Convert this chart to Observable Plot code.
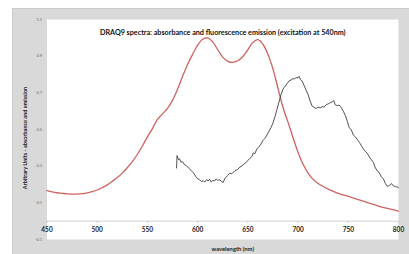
<!DOCTYPE html>
<html><head><meta charset="utf-8">
<script src="https://cdn.jsdelivr.net/npm/d3@7"></script>
<script src="https://cdn.jsdelivr.net/npm/@observablehq/plot@0.6"></script>
<style>
body{margin:0;background:#fff;}
#wrap{position:relative;width:409px;height:254px;overflow:hidden;}
#panel{position:absolute;left:12px;top:8px;width:397px;height:246px;background:#d9d9d9;border-top:1px solid #cacaca;border-left:1px solid #cacaca;}
#chart{position:absolute;left:0;top:0;}
</style></head><body>
<div id="wrap"><div id="panel"></div><div id="chart"></div></div>
<script>
const title = "DRAQ9 spectra: absorbance and fluorescence emission (excitation at 540nm)";
const yLabel = "Arbitrary Units - absorbance and emission";
const xLabel = "wavelength (nm)";
const xTicks = [450, 500, 550, 600, 650, 700, 750, 800];
const yTicks = [-0.1, 0.1, 0.3, 0.5, 0.7, 0.9, 1.1];

const absNm = [450,455,460,465,470,475,480,485,490,495,500,505,510,515,520,525,530,535,540,545,550,555,560,565,570,575,580,585,590,595,600,605,610,615,620,625,630,635,640,645,650,655,660,665,670,675,680,685,690,695,700,705,710,715,720,730,740,750,760,770,780,790,800];
const absVal = [0.167,0.160,0.155,0.152,0.149,0.148,0.148,0.150,0.154,0.161,0.170,0.183,0.198,0.217,0.238,0.262,0.292,0.325,0.365,0.410,0.460,0.505,0.555,0.585,0.615,0.660,0.720,0.790,0.855,0.910,0.960,0.992,1.000,0.978,0.935,0.895,0.872,0.866,0.875,0.898,0.935,0.975,0.990,0.965,0.910,0.830,0.725,0.620,0.540,0.455,0.375,0.310,0.262,0.228,0.205,0.175,0.152,0.135,0.118,0.100,0.082,0.068,0.055];

const emNm = [579,579.5,581,582,583.5,585,586.5,588.5,591,593.5,596,598,600,602,604,605.5,607,609,610.5,612,613.5,615,617,618.5,620,622,624,625.5,627,630,632,634,637,640,642,644,646,648,650,652,654,655.5,657,659,661,663,665,667,669,671,673,675,677,679,681,683,685,687,689,691,693,695,696.5,698,699.5,701,702.5,704,706,708,710,712,714,716,718,720,722,724,726,728,730,732,734,735.5,737,739,741,743,745,747,749,751,753,755,757,759,761,763,765,767,769,771,773,775,777,779,781,783,785,787,789,791,793,795,797,799,800];
const emVal = [0.290,0.358,0.335,0.340,0.322,0.325,0.310,0.304,0.290,0.277,0.262,0.245,0.231,0.226,0.215,0.222,0.213,0.226,0.220,0.228,0.213,0.222,0.220,0.231,0.222,0.226,0.214,0.212,0.232,0.250,0.262,0.258,0.275,0.283,0.295,0.300,0.312,0.318,0.332,0.342,0.352,0.372,0.368,0.395,0.405,0.420,0.440,0.452,0.470,0.490,0.510,0.535,0.570,0.610,0.650,0.690,0.720,0.735,0.750,0.765,0.770,0.778,0.775,0.785,0.780,0.790,0.772,0.765,0.740,0.715,0.690,0.655,0.628,0.620,0.615,0.622,0.618,0.625,0.622,0.635,0.640,0.646,0.650,0.658,0.635,0.630,0.633,0.620,0.600,0.577,0.545,0.510,0.498,0.470,0.460,0.445,0.430,0.412,0.395,0.380,0.370,0.350,0.335,0.320,0.290,0.275,0.262,0.242,0.230,0.205,0.190,0.195,0.205,0.192,0.188,0.186,0.182];

const abs = absNm.map((nm, i) => ({nm, v: absVal[i]}));
const em = emNm.map((nm, i) => ({nm, v: emVal[i]}));

const plot = Plot.plot({
  width: 409, height: 254,
  marginLeft: 46.5, marginRight: 11, marginTop: 19, marginBottom: 15,
  style: {background: "transparent", fontFamily: "Lato, 'Open Sans', sans-serif", overflow: "visible"},
  x: {domain: [450, 800], axis: null},
  y: {domain: [-0.1, 1.1], axis: null},
  marks: [
    Plot.frame({fill: "white", stroke: "none"}),
    Plot.ruleY([0], {stroke: "#d4d4d4", strokeWidth: 1}),
    Plot.ruleX(xTicks, {x: d => d, y1: 0, y2: -0.012, stroke: "#c8c8c8"}),
    Plot.text(xTicks, {x: d => d, y: 0, dy: 8.5, text: d => String(d), fontSize: 6.5, fontWeight: "bold", fill: "#222"}),
    Plot.axisY(yTicks, {tickSize: 0, tickPadding: 5, fontSize: 4, fill: "#666", label: null, tickFormat: d => d.toFixed(1)}),
    Plot.line(abs, {x: "nm", y: "v", stroke: "#c9524e", strokeWidth: 1.3, curve: "catmull-rom", strokeOpacity: 0.9}),
    Plot.line(em, {x: "nm", y: "v", stroke: "#3d3d3d", strokeWidth: 0.9}),
    Plot.text([title], {frameAnchor: "top", dy: 10, fontSize: 7.2, fontWeight: "bold", fill: "#111"}),
    Plot.text([yLabel], {frameAnchor: "left", textAnchor: "middle", rotate: -90, dx: -21.5, dy: 8.5, fontSize: 5.5, fontWeight: "bold", fill: "#222"}),
    Plot.text([xLabel], {frameAnchor: "bottom", dy: 11, dx: 10, fontSize: 5.8, fontWeight: "bold", fill: "#222"})
  ]
});
document.getElementById("chart").appendChild(plot);
</script>
</body></html>
